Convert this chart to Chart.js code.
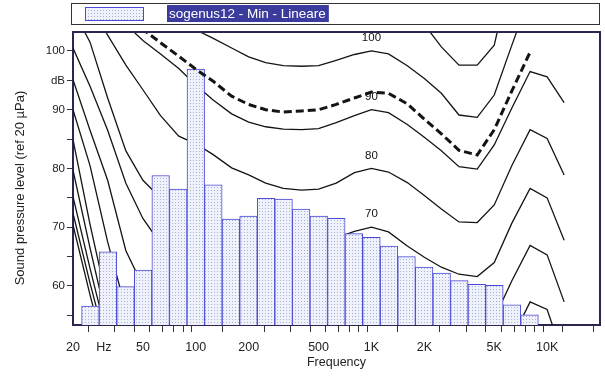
<!DOCTYPE html>
<html>
<head>
<meta charset="utf-8">
<script src="https://cdn.jsdelivr.net/npm/chart.js@4/dist/chart.umd.min.js"></script>
<style>
  html, body { margin: 0; padding: 0; background: #ffffff; }
  #wrap { width: 605px; height: 378px; }
</style>
</head>
<body>
<div id="wrap"><canvas id="c" width="605" height="378"></canvas></div>
<script>
// Measured third-octave spectrum
const seriesLabel = 'sogenus12 - Min - Lineare';
const bandFreqs  = [25, 31.5, 40, 50, 63, 80, 100, 125, 160, 200, 250, 315, 400, 500, 630, 800,
                    1000, 1250, 1600, 2000, 2500, 3150, 4000, 5000, 6300, 8000];
const bandLevels = [56.6, 65.8, 59.9, 62.7, 78.8, 76.5, 96.9, 77.2, 71.4, 71.9, 74.9, 74.8, 73.1, 71.9, 71.5, 68.9,
                    68.3, 66.8, 65.0, 63.2, 62.2, 60.9, 60.3, 60.1, 56.8, 55.1];

// Equal-loudness contours, sampled on the third-octave grid (dB SPL, null = not drawn)
const contourFreqs = [20, 25, 31.5, 40, 50, 63, 80, 100, 125, 160, 200, 250, 315, 400, 500, 630, 800,
                      1000, 1250, 1600, 2000, 2500, 3150, 4000, 5000, 6300, 8000, 10000, 12500];
const phon110 = [null, null, null, null, null, null, null, null, null, null, null, null, null, null, null, null, null,
                 null, null, null, 104.5, 100.7, 97.6, 97.6, 101.0, 114.0, null, null, null];
const phon100 = [null, null, null, null, null, null, 106.5, 103.6, 102.2, 100.5, 99.0, 98.0, 97.5, 97.4, 97.5, 98.4, 99.4,
                 100.0, 99.5, 97.5, 95.3, 92.8, 89.1, 88.7, 92.5, 101.0, 109.5, null, null];
const phon90  = [null, null, null, 104.5, 101.8, 99.5, 97.0, 94.2, 91.7, 89.3, 87.9, 87.1, 86.7, 86.6, 86.8, 87.8, 89.0,
                 90.0, 89.5, 87.5, 85.3, 83.0, 80.3, 79.9, 84.0, 90.3, 96.5, 95.6, 91.2];
const phon80  = [null, 107.5, 102.7, 97.6, 93.4, 89.0, 85.5, 84.2, 82.4, 80.1, 78.9, 77.5, 76.6, 76.3, 76.5, 77.5, 79.3,
                 80.0, 79.4, 77.6, 75.4, 73.1, 70.9, 70.8, 73.8, 80.5, 86.6, 85.1, 78.9];
const phon70  = [107.0, 101.5, 92.0, 83.0, 78.0, 75.0, 73.5, 73.0, 72.0, 70.5, 69.2, 68.2, 67.5, 67.2, 67.3, 68.2, 69.3,
                 70.0, 69.2, 66.8, 64.9, 63.2, 62.0, 61.6, 64.0, 70.7, 76.6, 75.0, 67.8];
const phon60  = [100.5, 94.0, 86.5, 77.5, 71.5, 67.2, 65.5, 65.0, 64.0, 62.2, 61.0, 59.8, 59.0, 58.6, 58.6, 59.0, 59.6,
                 60.0, 59.4, 57.3, 55.3, 53.2, 51.5, 51.0, 54.5, 60.9, 66.9, 65.3, 57.3];
const phon50  = [95.1, 86.5, 78.0, 66.0, 60.0, 57.5, 56.0, 55.0, 54.0, 53.0, 52.0, 51.0, 50.2, 49.6, 49.6, 49.8, 50.0,
                 50.0, 49.4, 47.3, 45.3, 43.2, 41.5, 41.0, 44.5, 51.0, 57.3, 56.0, 47.5];
const phon40  = [90.0, 80.5, 67.5, 56.0, 50.0, 47.0];
const phon30  = [84.9, 70.5, 57.0, 46.0];
const phon20  = [79.7, 66.5, 53.5, 43.0];
const phon10  = [75.2, 63.0, 51.0];
const phon0   = [72.4, 60.5, 49.0];
const phonThreshold = [70.4, 58.5, 47.0];

// Loudness level curve of the measured spectrum (dashed)
const loudnessCurve = [null, null, null, 107.0, 103.7, 101.4, 99.1, 96.9, 94.9, 92.3, 90.9, 90.0, 89.6, 89.8, 90.0, 90.9, 92.0,
                       93.0, 92.8, 91.0, 88.4, 85.9, 83.1, 82.3, 86.6, 93.2, 99.8, null, null];

const contourLabels = [100, 90, 80, 70];

// Axis ticks
const yTickValues = [55, 60, 65, 70, 75, 80, 85, 90, 95, 100];
const yTickLabels = { 100: '100', 95: 'dB', 90: '90', 80: '80', 70: '70', 60: '60' };
const xTickValues = [20, 30, 40, 50, 60, 70, 80, 90, 100, 200, 300, 400, 500, 600, 700, 800, 900,
                     1000, 2000, 3000, 4000, 5000, 6000, 7000, 8000, 9000, 10000, 15000];
const xTickLabels = { 20: '20', 30: 'Hz', 50: '50', 100: '100', 200: '200', 500: '500',
                      1000: '1K', 2000: '2K', 5000: '5K', 10000: '10K' };
const yTitle = 'Sound pressure level (ref 20 µPa)';

const FONT = '"Liberation Sans", Arial, sans-serif';
const AXIS_COLOR = '#2d2550';
const BAR_EDGE = '#4a4ad4';

const canvas = document.getElementById('c');
const ctx = canvas.getContext('2d');

// fine dotted fill for the bars
function makeStipple() {
  const t = document.createElement('canvas');
  t.width = 3; t.height = 3;
  const g = t.getContext('2d');
  g.fillStyle = '#eff2fb';
  g.fillRect(0, 0, 3, 3);
  g.fillStyle = '#a6aed9';
  g.fillRect(1, 1, 1, 1);
  return ctx.createPattern(t, 'repeat');
}
const stipple = makeStipple();

// exact base-10 third-octave centre for a nominal band frequency
const bandCentre = f => Math.pow(10, Math.round(Math.log10(f) * 10) / 10);
const bandCentres = bandFreqs.map(bandCentre);

function curvePoints(levels) {
  const pts = [];
  levels.forEach((v, i) => { if (v !== null) pts.push({ x: contourFreqs[i], y: v }); });
  return pts;
}

const solidCurves = [phon110, phon100, phon90, phon80, phon70, phon60, phon50,
                     phon40, phon30, phon20, phon10, phon0, phonThreshold];

const datasets = [{
  type: 'bar',
  label: seriesLabel,
  xAxisID: 'xb',
  data: bandCentres.map((f, i) => ({ x: f, y: bandLevels[i] })),
  backgroundColor: stipple,
  borderColor: BAR_EDGE,
  borderWidth: 1,
  borderSkipped: 'start',
  barPercentage: 1,
  categoryPercentage: 1,
  grouped: false,
  order: 1
}];

solidCurves.forEach(levels => datasets.push({
  type: 'line',
  data: curvePoints(levels),
  borderColor: '#141414',
  borderWidth: 1.3,
  pointRadius: 0,
  fill: false,
  tension: 0,
  order: 2
}));

datasets.push({
  type: 'line',
  data: curvePoints(loudnessCurve),
  borderColor: '#141414',
  borderWidth: 3,
  borderDash: [8, 4],
  pointRadius: 0,
  fill: false,
  tension: 0,
  order: 0
});

const framePlugin = {
  id: 'frame',
  afterDatasetsDraw(chart) {
    const a = chart.chartArea, c = chart.ctx;
    c.save();
    c.strokeStyle = AXIS_COLOR;
    c.lineWidth = 2;
    c.beginPath();
    c.moveTo(a.left, a.top);
    c.lineTo(a.right, a.top);
    c.lineTo(a.right, a.bottom);
    c.stroke();
    c.restore();
  }
};

const contourLabelPlugin = {
  id: 'contourLabels',
  afterDatasetsDraw(chart) {
    const c = chart.ctx, xs = chart.scales.x, ys = chart.scales.y;
    c.save();
    c.font = '11.5px ' + FONT;
    c.fillStyle = '#111';
    c.textAlign = 'center';
    c.textBaseline = 'middle';
    contourLabels.forEach(p => {
      c.fillText(String(p), xs.getPixelForValue(1000), ys.getPixelForValue(p) - 13);
    });
    c.restore();
  }
};

const yTitlePlugin = {
  id: 'yTitle',
  afterDraw(chart) {
    const c = chart.ctx;
    c.save();
    c.translate(20, 188);
    c.rotate(-Math.PI / 2);
    c.font = '13px ' + FONT;
    c.fillStyle = '#222';
    c.textAlign = 'center';
    c.textBaseline = 'middle';
    c.fillText(yTitle, 0, 0);
    c.restore();
  }
};

const legendPlugin = {
  id: 'boxLegend',
  afterDraw(chart) {
    const c = chart.ctx;
    const ds = chart.data.datasets[0];
    c.save();
    c.strokeStyle = '#333';
    c.lineWidth = 1;
    c.strokeRect(71.5, 3.5, 528, 21);
    c.fillStyle = ds.backgroundColor;
    c.fillRect(85, 7, 58, 13);
    c.strokeStyle = BAR_EDGE;
    c.strokeRect(85.5, 7.5, 58, 13);
    c.font = '13.5px ' + FONT;
    const w = c.measureText(ds.label).width;
    c.fillStyle = '#3b3b9e';
    c.fillRect(167, 5, w + 5, 17);
    c.fillStyle = '#ffffff';
    c.textBaseline = 'middle';
    c.fillText(ds.label, 169, 14);
    c.restore();
  }
};

new Chart(canvas, {
  type: 'bar',
  data: { datasets },
  options: {
    responsive: false,
    animation: false,
    devicePixelRatio: 1,
    layout: { padding: { top: 32, right: 5, left: 0, bottom: 0 } },
    plugins: { legend: { display: false }, tooltip: { enabled: false } },
    scales: {
      x: {
        type: 'logarithmic',
        min: 20,
        max: 20000,
        afterBuildTicks: s => { s.ticks = xTickValues.map(v => ({ value: v })); },
        afterFit: s => { s.height = 53; },
        ticks: {
          autoSkip: false, maxRotation: 0, minRotation: 0,
          callback: v => xTickLabels[v] || '',
          font: { family: FONT, size: 12.5 },
          color: '#222',
          padding: 8
        },
        grid: { drawOnChartArea: false, drawTicks: true, tickLength: 7, color: '#333', tickWidth: 1 },
        border: { color: AXIS_COLOR, width: 2 },
        title: { display: true, text: 'Frequency', font: { family: FONT, size: 12.5 }, color: '#222',
                 padding: { top: 0, bottom: 8 } }
      },
      // same frequency axis, used only to lay out the band bars
      xb: {
        type: 'logarithmic',
        position: 'bottom',
        display: false,
        min: 20,
        max: 20000,
        afterBuildTicks: s => { s.ticks = bandCentres.map(v => ({ value: v })); }
      },
      y: {
        type: 'linear',
        min: 53.36,
        max: 103.23,
        afterBuildTicks: s => { s.ticks = yTickValues.map(v => ({ value: v })); },
        afterFit: s => { s.width = 73; },
        ticks: {
          autoSkip: false,
          callback: v => yTickLabels[v] || '',
          font: { family: FONT, size: 11.5 },
          color: '#222',
          padding: 2
        },
        grid: { drawOnChartArea: false, drawTicks: true, tickLength: 6, color: '#333', tickWidth: 1 },
        border: { color: AXIS_COLOR, width: 2 }
      }
    }
  },
  plugins: [framePlugin, contourLabelPlugin, yTitlePlugin, legendPlugin]
});
</script>
</body>
</html>
